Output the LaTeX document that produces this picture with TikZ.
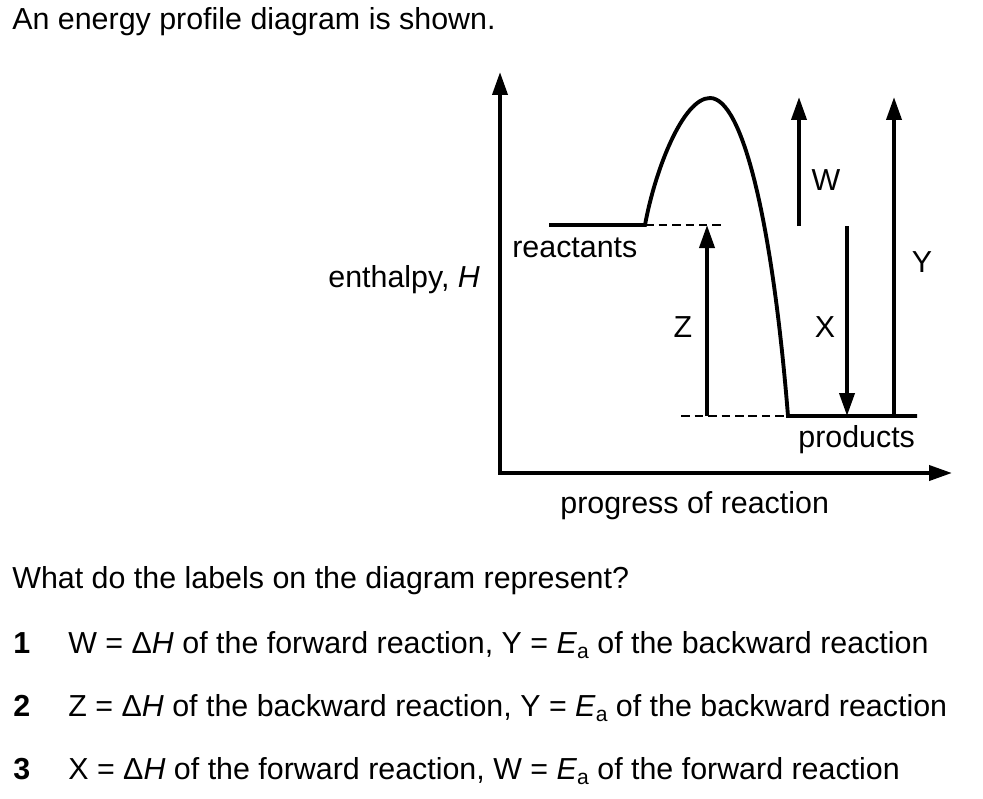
\documentclass[tikz,border=0pt]{standalone}
\usepackage{fontspec}
\setmainfont{Liberation Sans}
\usetikzlibrary{arrows.meta}

\newcommand{\Ea}{\textit{E}\raisebox{-0.35ex}{\fontsize{12}{12}\selectfont a}}

\tikzset{
  level/.style={line width=2.2pt},
  guide/.style={line width=0.6pt, dash pattern=on 0.17cm off 0.1cm},
  txt/.style={anchor=base west, inner sep=0pt},
  lbl/.style={anchor=base, inner sep=0pt}
}

\begin{document}
\begin{tikzpicture}[x=0.02cm, y=-0.02cm, line join=miter,
    >={Triangle[length=0.46cm, width=0.3cm]},
    font=\fontsize{17.3}{20}\selectfont]
  \useasboundingbox (0,0) rectangle (983,798);

  % Question text
  \node[txt] (title) at (12,29) {An energy profile diagram is shown.};

  % Key points of the profile
  \coordinate (O) at (500,473);
  \coordinate (ytip) at (500,72);
  \coordinate (xtip) at (952,473);
  \coordinate (reactL) at (549,225);
  \coordinate (reactR) at (645,225);
  \coordinate (peak) at (710,98);
  \coordinate (prodL) at (788,416);
  \coordinate (prodR) at (917,416);

  % Axes
  \draw[level, <->] (ytip) -- (O) -- (xtip);
  \node[txt] (ylab) at (328,287) {enthalpy, \textit{H}};
  \node[txt] (xlab) at (560,513) {progress of reaction};

  % Energy profile
  \draw[level] (reactL) -- (reactR)
    .. controls (655,170) and (683,98) .. (peak)
    .. controls (742,98) and (772,218) .. (prodL) -- (prodR);
  \node[txt] (reactants) at (512,257) {reactants};
  \node[txt] (products) at (798,447) {products};

  % Dashed guide lines
  \coordinate (reactD) at (725,225);
  \coordinate (prodD) at (681,416);
  \draw[guide] (reactR) -- (reactD);
  \draw[guide] (prodD) -- (prodL);

  % Labelled arrows
  \coordinate (Zb) at (707,416); \coordinate (Zt) at (707,225);
  \coordinate (Wb) at (799,226); \coordinate (Wt) at (799,97);
  \coordinate (Xt) at (847,226); \coordinate (Xb) at (847,416);
  \coordinate (Yb) at (894,416); \coordinate (Yt) at (894,97);
  \draw[level, ->] (Zb) -- (Zt);
  \draw[level, ->] (Wb) -- (Wt);
  \draw[level, ->] (Xt) -- (Xb);
  \draw[level, ->] (Yb) -- (Yt);
  \node[lbl] (W) at (826,190) {W};
  \node[lbl] (Y) at (922,272) {Y};
  \node[lbl] (Z) at (683,337) {Z};
  \node[lbl] (X) at (825,337) {X};

  % Options
  \node[txt] (ask) at (12,588) {What do the labels on the diagram represent?};
  \node[txt] (n1) at (13,653) {\textbf{1}};
  \node[txt] (o1) at (68,653) {W = Δ\textit{H} of the forward reaction, Y = \Ea\ of the backward reaction};
  \node[txt] (n2) at (13,716) {\textbf{2}};
  \node[txt] (o2) at (68,716) {Z = Δ\textit{H} of the backward reaction, Y = \Ea\ of the backward reaction};
  \node[txt] (n3) at (13,779) {\textbf{3}};
  \node[txt] (o3) at (68,779) {X = Δ\textit{H} of the forward reaction, W = \Ea\ of the forward reaction};
\end{tikzpicture}
\end{document}
